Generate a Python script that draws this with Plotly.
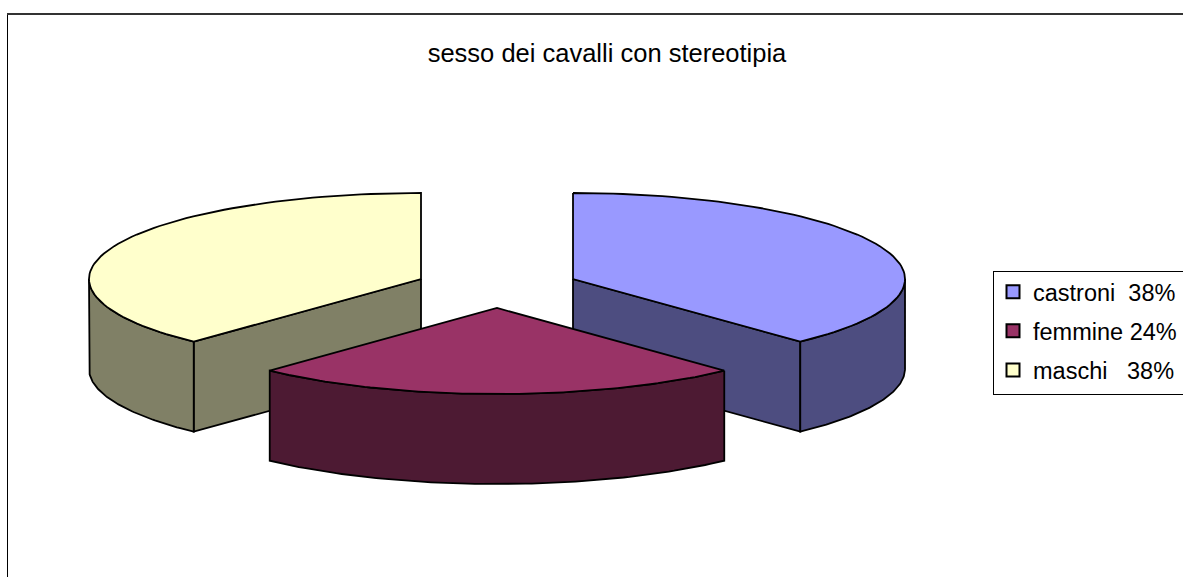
import numpy as np
import plotly.graph_objects as go

# Data
categories = ["castroni", "femmine", "maschi"]
shares = [38, 24, 38]
legend_labels = ["castroni  38%", "femmine 24%", "maschi   38%"]
top_colors = ["#9999FF", "#993366", "#FFFFCC"]
side_colors = ["#4D4D80", "#4D1A33", "#808066"]

W, H = 1183, 577

# Pie projection, in pixels on the hidden axes
RX, RY, DEPTH = 332, 86, 90
apexes = {"castroni": (573, 279), "femmine": (497, 308), "maschi": (421, 279)}
EDGE = dict(color="black", width=1.8)


def arc(cx, cy, a0, a1, n=80):
    # angles in degrees, clockwise from 12 o'clock
    a = np.radians(np.linspace(a0, a1, n))
    return cx + RX * np.sin(a), cy - RY * np.cos(a)


def poly(fig, xs, ys, color):
    fig.add_trace(go.Scatter(
        x=np.append(xs, xs[0]), y=np.append(ys, ys[0]), mode="lines",
        fill="toself", fillcolor=color, line=EDGE,
        showlegend=False, hoverinfo="skip",
    ))


def draw_slice(fig, name, a0, a1, top, side):
    cx, cy = apexes[name]
    # outer wall is only visible on the front half of the ellipse
    w0, w1 = max(a0, 90), min(a1, 270)
    # cut faces that look towards the viewer
    for a in (a0, a1):
        ex, ey = arc(cx, cy, a, a, 1)
        faces_front = (a > 90 and a < 180 and a == a1) or (a > 180 and a < 270 and a == a0)
        if faces_front:
            poly(fig, np.array([cx, ex[0], ex[0], cx]),
                 np.array([cy, ey[0], ey[0] + DEPTH, cy + DEPTH]), side)
    if w1 > w0:
        wx, wy = arc(cx, cy, w0, w1)
        poly(fig, np.concatenate([wx, wx[::-1]]), np.concatenate([wy, wy[::-1] + DEPTH]), side)
    tx, ty = arc(cx, cy, a0, a1)
    poly(fig, np.append(tx, cx), np.append(ty, cy), top)


fig = go.Figure()

# Slice angles come from the shares
total = sum(shares)
ends = np.cumsum(shares) / total * 360
starts = np.concatenate([[0], ends[:-1]])
spans = {c: (s, e) for c, s, e in zip(categories, starts, ends)}

# Back slices first, the front one over them
for i in [0, 2, 1]:
    c = categories[i]
    draw_slice(fig, c, spans[c][0], spans[c][1], top_colors[i], side_colors[i])

# Legend entries
for i, label in enumerate(legend_labels):
    fig.add_trace(go.Scatter(
        x=[None], y=[None], mode="markers", name=label, legendgroup=categories[i],
        marker=dict(symbol="square", size=13, color=top_colors[i], line=dict(color="black", width=2)),
    ))

fig.update_layout(
    width=W,
    height=H,
    autosize=False,
    paper_bgcolor="white",
    plot_bgcolor="white",
    margin=dict(l=0, r=0, t=0, b=0),
    font=dict(family="Liberation Sans", color="black", size=23.5),
    title=dict(
        text="sesso dei cavalli con stereotipia",
        x=607 / W, y=1 - 53 / H, xanchor="center", yanchor="middle",
        font=dict(family="Liberation Sans", size=25.5, color="black"),
    ),
    xaxis=dict(range=[0, W], visible=False, fixedrange=True),
    yaxis=dict(range=[H, 0], visible=False, fixedrange=True),
    legend=dict(
        x=993 / W, y=1 - 270 / H, xanchor="left", yanchor="top",
        bgcolor="rgba(0,0,0,0)", tracegroupgap=5.5, itemclick=False,
        font=dict(family="Liberation Sans", size=23.5, color="black"),
    ),
    shapes=[
        dict(type="line", x0=7.5, x1=7.5, y0=14, y1=H, line=dict(color="black", width=1)),
        dict(type="line", x0=7, x1=W, y0=14, y1=14, line=dict(color="#333333", width=2)),
        dict(type="line", x0=993.5, x1=993.5, y0=271, y1=394.5, line=dict(color="black", width=1)),
        dict(type="line", x0=993, x1=W, y0=271.5, y1=271.5, line=dict(color="black", width=1)),
        dict(type="line", x0=993, x1=W, y0=394.5, y1=394.5, line=dict(color="black", width=1)),
    ],
)

# body margin would push the figure 8 px off the frame
fig.write_html("out.html", config={"displayModeBar": False},
               post_script="document.body.style.margin = '0';")
